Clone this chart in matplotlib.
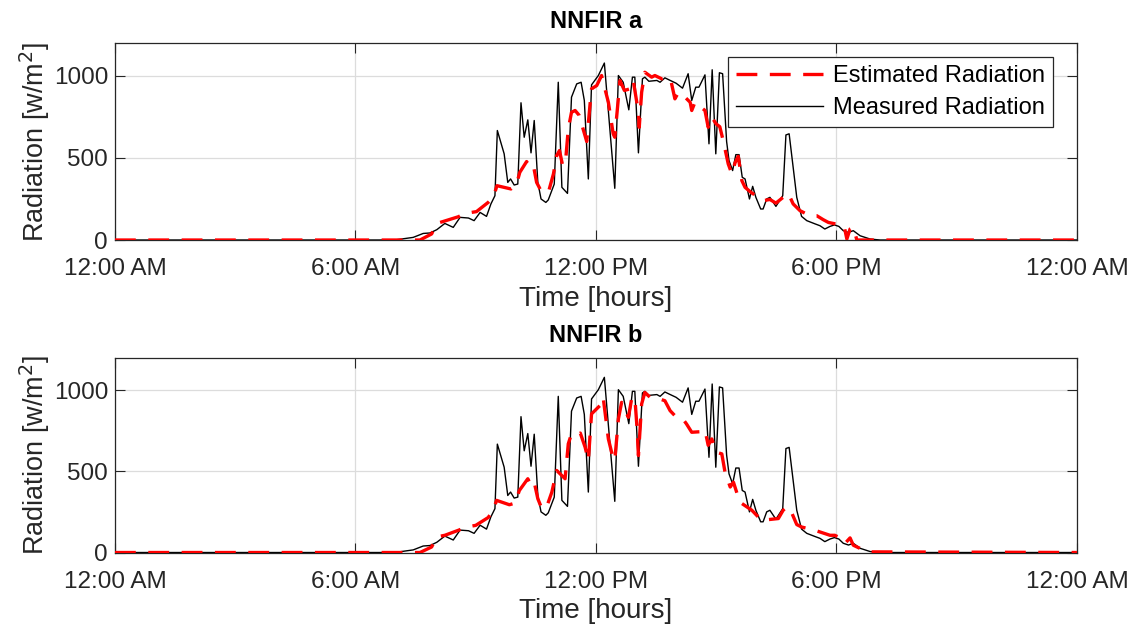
import matplotlib
matplotlib.use("Agg")
import matplotlib.pyplot as plt

# measured radiation (same in both panels), hours of day / W/m^2
meas_h = [0, 6.61, 7.03, 7.44, 7.69, 7.86, 8.03, 8.23, 8.44, 8.61, 8.82, 8.96, 9.11, 9.27, 9.38, 9.48,
          9.54, 9.71, 9.80, 9.87, 9.96, 10.05, 10.13, 10.21, 10.30, 10.38, 10.46, 10.55, 10.63, 10.75,
          10.81, 10.96, 11.06, 11.15, 11.29, 11.39, 11.52, 11.63, 11.71, 11.81, 11.89, 12.06, 12.21,
          12.47, 12.56, 12.68, 12.82, 12.91, 12.97, 13.06, 13.16, 13.22, 13.32, 13.52, 13.60, 13.72,
          13.82, 14.00, 14.16, 14.30, 14.39, 14.49, 14.57, 14.72, 14.82, 14.90, 14.99, 15.08, 15.16,
          15.26, 15.32, 15.41, 15.49, 15.57, 15.65, 15.72, 15.83, 15.91, 15.99, 16.11, 16.17, 16.26,
          16.34, 16.49, 16.66, 16.74, 16.82, 17.01, 17.13, 17.26, 17.47, 17.59, 17.71, 17.84, 17.95,
          18.06, 18.17, 18.30, 18.42, 18.59, 18.84, 19.09, 24]
meas_v = [0, 0, 2, 16, 40, 43, 63, 101, 77, 138, 134, 118, 168, 144, 220, 270,
          667, 525, 351, 372, 335, 341, 836, 626, 732, 531, 728, 351, 250, 229,
          244, 341, 961, 321, 284, 870, 951, 961, 850, 372, 945, 1002, 1078,
          315, 1002, 961, 793, 992, 992, 531, 982, 992, 967, 972, 961, 988,
          976, 955, 925, 1013, 850, 931, 931, 1006, 586, 1037, 525, 1019, 1013,
          600, 484, 423, 520, 520, 382, 372, 250, 327, 260, 189, 189, 250,
          260, 205, 270, 640, 647, 260, 144, 118, 98, 87, 67, 83, 92,
          83, 57, 46, 57, 26, 6, 0, 0]

# estimated radiation, NNFIR a
est_a_h = [0, 7.61, 7.90, 8.03, 8.19, 8.57, 8.73, 9.02, 9.31, 9.44, 9.53, 9.88, 10.02, 10.10, 10.27,
           10.36, 10.44, 10.52, 10.65, 10.77, 10.83, 10.94, 11.02, 11.09, 11.17, 11.25, 11.31, 11.39,
           11.48, 11.58, 11.77, 11.85, 11.89, 12.02, 12.14, 12.31, 12.43, 12.47, 12.60, 12.71, 12.85,
           12.93, 13.06, 13.08, 13.14, 13.22, 13.39, 13.47, 13.64, 13.76, 13.86, 13.97, 14.04, 14.10,
           14.35, 14.39, 14.47, 14.72, 14.80, 14.89, 15.00, 15.09, 15.18, 15.30, 15.39, 15.47, 15.55,
           15.64, 15.72, 15.87, 16.18, 16.34, 16.49, 16.67, 16.80, 16.92, 17.09, 17.34, 17.51, 17.67,
           17.80, 17.92, 18.19, 18.26, 18.34, 18.42, 18.51, 24]
est_a_v = [0, 0, 37, 101, 113, 142, 162, 173, 229, 260, 331, 311, 341, 412, 478,
           443, 453, 351, 290, 290, 305, 403, 514, 545, 453, 504, 677, 778,
           789, 760, 600, 819, 921, 941, 1002, 839, 647, 626, 972, 911, 921,
           972, 778, 687, 900, 1022, 992, 1002, 982, 992, 982, 860, 891, 900,
           839, 789, 839, 789, 687, 748, 707, 690, 600, 464, 403, 470, 510,
           362, 321, 290, 240, 247, 225, 260, 284, 220, 179, 148, 148, 124,
           107, 101, 87, 6, 67, 77, 0, 0]

# estimated radiation, NNFIR b
est_b_h = [0, 7.61, 7.90, 8.03, 8.23, 8.57, 8.77, 9.00, 9.31, 9.44, 9.52, 9.84, 9.98, 10.09, 10.30,
           10.38, 10.46, 10.55, 10.65, 10.77, 10.90, 11.02, 11.23, 11.31, 11.39, 11.52, 11.61, 11.73,
           11.81, 11.89, 12.14, 12.18, 12.31, 12.43, 12.47, 12.56, 12.64, 12.81, 12.89, 12.97, 13.03,
           13.06, 13.14, 13.22, 13.35, 13.47, 13.72, 13.85, 13.97, 14.14, 14.26, 14.39, 14.64, 14.72,
           14.80, 14.89, 15.01, 15.14, 15.22, 15.35, 15.43, 15.59, 15.89, 16.01, 16.13, 16.55, 16.67,
           16.76, 16.84, 17.01, 17.13, 17.46, 17.84, 17.96, 18.09, 18.21, 18.34, 18.42, 18.59, 18.80, 24]
est_b_v = [0, 0, 34, 96, 106, 137, 157, 167, 215, 260, 321, 294, 304, 382, 454,
           413, 433, 331, 270, 280, 372, 505, 454, 669, 730, 724, 735, 648,
           566, 853, 914, 955, 699, 577, 566, 822, 924, 832, 945, 955, 750,
           597, 914, 985, 955, 955, 934, 873, 842, 832, 791, 740, 744, 755,
           660, 699, 617, 607, 495, 403, 433, 310, 260, 229, 198, 209, 260,
           280, 270, 172, 157, 137, 106, 106, 90, 55, 90, 45, 25, 4, 0]

titles = ["NNFIR a", "NNFIR b"]
xtick_pos = [0, 6, 12, 18, 24]
xtick_labels = ["12:00 AM", "6:00 AM", "12:00 PM", "6:00 PM", "12:00 AM"]
ytick_pos = [0, 500, 1000]

plt.rcParams["font.family"] = ["Liberation Sans", "DejaVu Sans"]
plt.rcParams["lines.scale_dashes"] = False

dark = "#262626"
fig = plt.figure(figsize=(11.36, 6.28), dpi=100)
ax_a = fig.add_axes([0.1012, 0.6178, 0.8468, 0.3137])
ax_b = fig.add_axes([0.1012, 0.1202, 0.8468, 0.3105])

for ax, title, est_h, est_v in [(ax_a, titles[0], est_a_h, est_a_v),
                                 (ax_b, titles[1], est_b_h, est_b_v)]:
    ax.plot(est_h, est_v, color="red", lw=2.4, dashes=(15, 9), label="Estimated Radiation", zorder=3)
    ax.plot(meas_h, meas_v, color="black", lw=1.0, label="Measured Radiation", zorder=2)
    ax.set_xlim(0, 24)
    ax.set_ylim(0, 1200)
    ax.set_xticks(xtick_pos)
    ax.set_xticklabels(xtick_labels)
    ax.set_yticks(ytick_pos)
    ax.grid(True, color="#dcdcdc", lw=0.9)
    ax.set_axisbelow(True)
    ax.tick_params(direction="in", length=7, width=0.8, top=True, right=True,
                   labelsize=17.5, colors=dark)
    ax.tick_params(axis="x", pad=13)
    ax.tick_params(axis="y", pad=5)
    for s in ax.spines.values():
        s.set_color(dark)
        s.set_linewidth(0.9)
    ax.set_title(title, fontsize=17, fontweight="bold", pad=11)
    ax.set_xlabel("Time [hours]", fontsize=20, color=dark, labelpad=4)
    ax.set_ylabel("Radiation [w/m$^2$]", fontsize=19.5, color=dark, labelpad=1)

leg = ax_a.legend(loc="upper right", fontsize=17, handlelength=3.7, frameon=True,
                  fancybox=False, framealpha=1, borderpad=0.35, labelspacing=0.42,
                  handletextpad=0.4, borderaxespad=0, bbox_to_anchor=(0.975, 0.929))
leg.get_frame().set_edgecolor(dark)
leg.get_frame().set_linewidth(0.9)

fig.savefig("out.png", dpi=100)
